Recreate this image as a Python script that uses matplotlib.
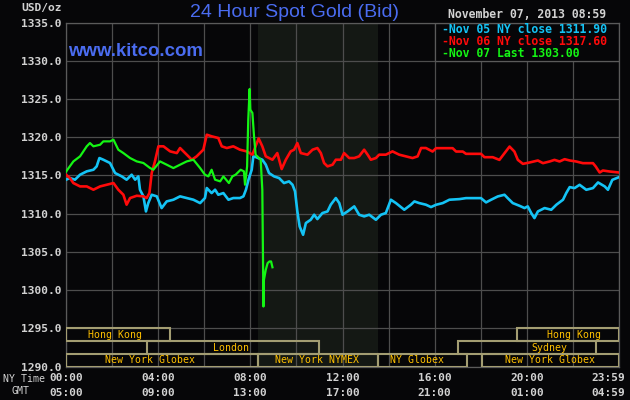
import matplotlib
matplotlib.use('Agg')
import matplotlib.pyplot as plt
from matplotlib.patches import Rectangle
import numpy as np

# ---------------- data ----------------
blue_hours = [0, 0.17, 0.39, 0.61, 0.90, 1.19, 1.33, 1.45, 1.62, 1.91, 2.13, 2.42, 2.63, 2.85, 3.0, 3.14,
              3.21, 3.36, 3.47, 3.57, 3.72, 3.94, 4.15, 4.37, 4.66, 4.95, 5.24, 5.53, 5.82, 6.03, 6.11, 6.32,
              6.47, 6.61, 6.83, 7.05, 7.26, 7.55, 7.70, 7.81, 7.92, 8.06, 8.13, 8.23, 8.52, 8.67, 8.81, 9.03,
              9.25, 9.46, 9.68, 9.83, 9.94, 10.04, 10.14, 10.29, 10.41, 10.62, 10.77, 10.91, 11.13, 11.35,
              11.49, 11.71, 11.86, 12.0, 12.22, 12.51, 12.72, 12.94, 13.16, 13.45, 13.67, 13.88, 14.10, 14.32,
              14.68, 14.97, 15.12, 15.33, 15.62, 15.84, 16.06, 16.35, 16.64, 17.07, 17.36, 18.01, 18.23, 18.45,
              18.74, 19.03, 19.17, 19.39, 19.68, 19.90, 20.04, 20.19, 20.33, 20.48, 20.77, 21.06, 21.28, 21.57,
              21.71, 21.86, 22.07, 22.29, 22.58, 22.87, 23.09, 23.38, 23.52, 23.71, 24.0]
blue_vals = [1314.45, 1314.66, 1314.45, 1315.10, 1315.54, 1315.75, 1316.19, 1317.28, 1317.06, 1316.63, 1315.32,
             1314.88, 1314.45, 1315.10, 1314.45, 1314.88, 1313.14, 1312.27, 1310.30, 1311.39, 1312.48, 1312.27,
             1310.74, 1311.61, 1311.83, 1312.27, 1312.05, 1311.83, 1311.39, 1312.05, 1313.36, 1312.70, 1313.14,
             1312.48, 1312.70, 1311.83, 1312.05, 1312.05, 1312.27, 1313.14, 1314.45, 1315.75, 1317.50, 1317.41,
             1317.06, 1316.41, 1315.32, 1314.88, 1314.66, 1314.01, 1314.23, 1313.79, 1312.92, 1310.30, 1308.34,
             1307.25, 1308.78, 1309.21, 1309.87, 1309.30, 1310.09, 1310.30, 1311.18, 1312.05, 1311.39, 1309.87,
             1310.30, 1310.96, 1309.87, 1309.65, 1309.87, 1309.21, 1309.87, 1310.09, 1311.83, 1311.39, 1310.52,
             1311.18, 1311.61, 1311.39, 1311.18, 1310.87, 1311.17, 1311.39, 1311.83, 1311.91, 1312.04, 1312.04,
             1311.48, 1311.83, 1312.26, 1312.48, 1312.04, 1311.39, 1311.04, 1310.74, 1310.96, 1310.09, 1309.43,
             1310.30, 1310.74, 1310.52, 1311.17, 1311.83, 1312.70, 1313.48, 1313.35, 1313.78, 1313.13, 1313.35,
             1314.09, 1313.57, 1313.13, 1314.43, 1314.78]

red_hours = [0, 0.17, 0.32, 0.61, 0.90, 1.19, 1.48, 1.77, 2.06, 2.27, 2.49, 2.63, 2.78, 3.07, 3.36, 3.50, 3.62,
             3.72, 3.86, 4.01, 4.23, 4.52, 4.81, 4.95, 5.17, 5.46, 5.67, 5.96, 6.11, 6.32, 6.61, 6.76, 6.98, 7.26,
             7.55, 7.84, 8.09, 8.36, 8.52, 8.67, 8.96, 9.17, 9.36, 9.54, 9.75, 9.90, 10.04, 10.19, 10.48, 10.70,
             10.91, 11.06, 11.20, 11.35, 11.57, 11.71, 11.93, 12.07, 12.29, 12.51, 12.72, 12.94, 13.09, 13.23,
             13.45, 13.59, 13.88, 14.17, 14.46, 14.75, 15.04, 15.26, 15.41, 15.62, 15.91, 16.06, 16.35, 16.78,
             16.93, 17.22, 17.36, 18.01, 18.16, 18.52, 18.81, 19.03, 19.25, 19.46, 19.61, 19.83, 20.12, 20.48,
             20.70, 20.99, 21.20, 21.42, 21.64, 21.86, 22.14, 22.43, 22.87, 22.99, 23.16, 23.30, 23.59, 24.0]
red_vals = [1315.10, 1314.66, 1314.01, 1313.57, 1313.57, 1313.14, 1313.57, 1313.79, 1314.01, 1313.14, 1312.48,
            1311.18, 1312.05, 1312.35, 1312.27, 1312.05, 1312.70, 1315.32, 1316.84, 1318.81, 1318.81, 1318.15,
            1317.93, 1318.59, 1317.93, 1317.06, 1317.50, 1318.37, 1320.33, 1320.12, 1319.90, 1318.81, 1318.59,
            1318.81, 1318.37, 1318.15, 1317.72, 1319.85, 1318.81, 1317.50, 1317.06, 1317.93, 1315.84, 1317.06,
            1318.15, 1318.37, 1319.24, 1317.93, 1317.72, 1318.37, 1318.59, 1317.93, 1316.63, 1316.19, 1316.41,
            1317.06, 1317.06, 1317.93, 1317.28, 1317.28, 1317.50, 1318.37, 1317.72, 1317.06, 1317.28, 1317.72,
            1317.72, 1318.15, 1317.72, 1317.50, 1317.28, 1317.50, 1318.59, 1318.59, 1318.13, 1318.57, 1318.57,
            1318.57, 1318.13, 1318.13, 1317.83, 1317.83, 1317.39, 1317.39, 1317.04, 1317.91, 1318.78, 1318.13,
            1317.04, 1316.52, 1316.70, 1316.96, 1316.61, 1316.83, 1317.04, 1316.83, 1317.13, 1316.96, 1316.83,
            1316.61, 1316.61, 1316.17, 1315.39, 1315.65, 1315.52, 1315.39]

green_hours = [0, 0.32, 0.61, 0.90, 1.04, 1.19, 1.48, 1.62, 1.91, 2.06, 2.27, 2.49, 2.78, 3.07, 3.36, 3.65, 3.79,
               4.08, 4.37, 4.66, 4.95, 5.24, 5.53, 5.82, 6.03, 6.18, 6.32, 6.47, 6.69, 6.83, 7.07, 7.22, 7.36,
               7.58, 7.72, 7.77, 7.86, 7.91, 7.97, 8.0, 8.09, 8.16, 8.23, 8.30, 8.45, 8.48, 8.52, 8.57, 8.59,
               8.67, 8.75, 8.83, 8.90, 8.96]
green_vals = [1315.5, 1316.84, 1317.50, 1318.81, 1319.24, 1318.81, 1319.02, 1319.46, 1319.46, 1319.68, 1318.37,
              1317.93, 1317.28, 1316.84, 1316.63, 1315.97, 1315.75, 1316.84, 1316.41, 1315.97, 1316.41, 1316.84,
              1317.06, 1315.97, 1315.10, 1314.88, 1315.75, 1314.45, 1314.23, 1314.88, 1314.01, 1314.88, 1315.10,
              1315.75, 1315.54, 1313.79, 1316.19, 1322.30, 1326.31, 1323.60, 1323.17, 1320.12, 1317.72, 1317.50,
              1317.06, 1315.32, 1313.14, 1297.87, 1301.36, 1302.67, 1303.54, 1303.76, 1303.76, 1303.00]

legend_labels = ['Nov 05 NY close 1311.90', 'Nov 06 NY close 1317.60', 'Nov 07 Last 1303.00']
y_ticks = [1290, 1295, 1300, 1305, 1310, 1315, 1320, 1325, 1330, 1335]
ny_tick_hours = [0, 4, 8, 12, 16, 20, 24]
ny_tick_labels = ['00:00', '04:00', '08:00', '12:00', '16:00', '20:00', '23:59']
gmt_tick_labels = ['05:00', '09:00', '13:00', '17:00', '21:00', '01:00', '04:59']

# sessions: label, row (0 top), start hour, end hour, label hour
session_labels = ['Hong Kong', 'Hong Kong', 'London', 'Sydney', 'New York Globex', 'New York NYMEX',
                  'NY Globex', 'New York Globex']
session_rows = [0, 0, 1, 1, 2, 2, 2, 2]
session_start = [0.0, 19.56, 3.53, 17.03, 0.0, 8.33, 13.55, 18.07]
session_end = [4.51, 24.0, 11.0, 22.99, 8.33, 13.55, 17.39, 24.0]
session_label_x = [2.13, 22.06, 7.17, 20.99, 3.66, 10.9, 15.22, 20.99]
comex_start, comex_end = 8.33, 13.55

# ---------------- style ----------------
BG = '#060608'
GRID = '#4d4d4d'
BLUE = '#14c3f5'
RED = '#ff0a0a'
GREEN = '#14f514'
BOX = '#a39d72'
BOXTXT = '#ffc000'
LABEL = '#d2d2d2'
MONO = 'DejaVu Sans Mono'

W, H = 630, 400
fig = plt.figure(figsize=(6.3, 4.0), dpi=100, facecolor=BG)
L, R, T, B = 66, 619, 22.5, 366.7
ax = fig.add_axes([L / W, 1 - B / H, (R - L) / W, (B - T) / H])
ax.set_facecolor(BG)
ax.set_xlim(0, 24)
ax.set_ylim(1290, 1335)
ax.set_xticks(np.arange(0, 25, 2))
ax.set_yticks(y_ticks)
ax.set_axisbelow(True)
ax.grid(True, color=GRID, lw=0.9)
ax.tick_params(length=0, labelbottom=False, pad=3)
ax.set_yticklabels([f'{v:.1f}' for v in y_ticks], fontfamily=MONO, fontweight='bold',
                   fontsize=8.1, color=LABEL)
for s in ax.spines.values():
    s.set_color('#5a5a5a')
    s.set_linewidth(0.9)

ax.axvspan(comex_start, comex_end, color='#141814', zorder=0.2, lw=0)

ax.plot(blue_hours, blue_vals, color=BLUE, lw=1.9, zorder=3)
ax.plot(red_hours, red_vals, color=RED, lw=1.9, zorder=3)
ax.plot(green_hours, green_vals, color=GREEN, lw=1.6, zorder=4)

# session boxes
rh = 5 / 3.0
for lab, row, s0, s1, lx in zip(session_labels, session_rows, session_start, session_end, session_label_x):
    y0 = 1295 - (row + 1) * rh
    ax.add_patch(Rectangle((s0, y0), s1 - s0, rh, fill=False, edgecolor=BOX, lw=1.5, zorder=5))
    ax.text(lx, y0 + rh / 2, lab, ha='center', va='center', fontfamily=MONO, fontsize=7.1,
            color=BOXTXT, zorder=6)

# legend box
ax.add_patch(Rectangle((16, 1330), 8, 5, facecolor=BG, edgecolor='#5a5a5a', lw=0.9, zorder=2.5))
for i, (lab, col) in enumerate(zip(legend_labels, [BLUE, RED, GREEN])):
    fig.text(442 / W, 1 - (29.3 + 12.2 * i) / H, '-' + lab, ha='left', va='center',
             fontfamily=MONO, fontweight='bold', fontsize=8.3, color=col)

# top texts
fig.text(294 / W, 1 - 17.3 / H, '24 Hour Spot Gold (Bid)', ha='center', va='baseline',
         fontfamily='Liberation Sans', fontsize=14, color='#4a6cf0')
fig.text(68 / W, 1 - 55.7 / H, 'www.kitco.com', ha='left', va='baseline',
         fontfamily='Liberation Sans', fontweight='bold', fontsize=13.4, color='#4a6cf0')
fig.text(62 / W, 1 - 8.3 / H, 'USD/oz', ha='right', va='center', fontfamily=MONO,
         fontweight='bold', fontsize=8.1, color=LABEL)
fig.text(448 / W, 1 - 15 / H, 'November 07, 2013 08:59', ha='left', va='center', fontfamily=MONO,
         fontweight='bold', fontsize=8.3, color=LABEL)

# time axis labels
fig.text(45 / W, 1 - 379.5 / H, 'NY Time', ha='right', va='center', fontfamily=MONO,
         fontsize=7.1, color=LABEL)
fig.text(20.5 / W, 1 - 391.5 / H, 'GMT', ha='center', va='center', fontfamily=MONO,
         fontsize=7.1, color=LABEL)
for h, a, b in zip(ny_tick_hours, ny_tick_labels, gmt_tick_labels):
    xp = L + h * (R - L) / 24
    ha = 'center'
    if h == 24:
        xp = R + 6
        ha = 'right'
    fig.text(xp / W, 1 - 378 / H, a, ha=ha, va='center', fontfamily=MONO, fontweight='bold',
             fontsize=8.0, color=LABEL)
    fig.text(xp / W, 1 - 393 / H, b, ha=ha, va='center', fontfamily=MONO, fontweight='bold',
             fontsize=8.0, color=LABEL)

fig.savefig('out.png', dpi=100, facecolor=BG)
